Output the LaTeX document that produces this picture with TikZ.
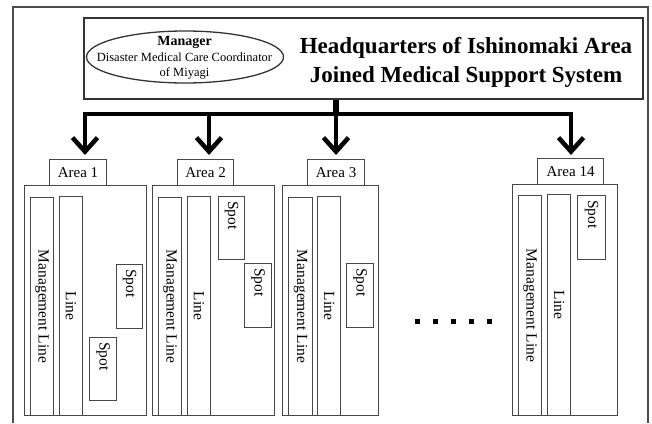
\documentclass[tikz,border=0pt]{standalone}
\usepackage{fontspec}
\setmainfont{Liberation Serif}
\usetikzlibrary{arrows.meta,shapes.geometric}
\begin{document}
\begin{tikzpicture}[x=1pt,y=-1pt,
 frame/.style={draw=black!70, line width=1.6pt},
 hqbox/.style={draw=black!80, line width=1.6pt, anchor=north west, inner sep=0pt},
 box/.style={draw=black!72, line width=1.1pt, anchor=north west, inner sep=0pt},
 tabtext/.style={font=\fontsize{15}{15}\selectfont, inner sep=0pt},
 vtext/.style={rotate=-90, font=\fontsize{15.5}{16}\selectfont, inner sep=0pt},
 conn/.style={line width=3.6pt, draw=black},
 arr/.style={conn, -{Straight Barb[length=14pt,width=25pt,line width=4.5pt]}},
 dotsq/.style={fill=black, minimum size=5pt, inner sep=0pt},
]
\useasboundingbox (0,0) rectangle (652,423);
\fill[white] (0,0) rectangle (652,423);
% outer frame
\draw[frame] (13,423) -- (13,7) -- (648,7) -- (648,423);

% headquarters
\node[hqbox, minimum width=559pt, minimum height=81pt] (hq) at (83,17) {};
\node[ellipse, draw=black!80, line width=1.3pt, minimum width=197pt, minimum height=52pt, inner sep=0pt] (mgr) at (185,57) {};
\node[align=center, inner sep=0pt, font=\fontsize{12.5}{15.5}\selectfont] (mgrt) at (184.5,58)
 {{\fontsize{14}{15.5}\selectfont\bfseries Manager}\\
  Disaster Medical Care Coordinator\\
  of Miyagi};
\node[align=center, inner sep=0pt, font=\fontsize{23}{29}\selectfont\bfseries] (title) at (466,62.5)
 {Headquarters of Ishinomaki Area\\Joined Medical Support System};

% tabs and area boxes
\node[box, minimum width=57pt, minimum height=26pt] (tab1) at (49,159) {};
\node[tabtext] (tab1t) at (tab1.center) {Area 1};
\node[box, minimum width=122pt, minimum height=230pt] (area1) at (24,185) {};
\node[box, minimum width=23pt, minimum height=218pt] (ml1) at (30,197) {};
\node[vtext] (ml1t) at (ml1.center) {Management Line};
\node[box, minimum width=23pt, minimum height=219pt] (ln1) at (59,196) {};
\node[vtext] (ln1t) at (ln1.center) {Line};
\node[box, minimum width=26pt, minimum height=64pt] (sp1a) at (116,264) {};
\node[vtext, anchor=west] (sp1at) at ([yshift=-5pt]sp1a.north) {Spot};
\node[box, minimum width=27pt, minimum height=63pt] (sp1b) at (89,337) {};
\node[vtext, anchor=west] (sp1bt) at ([yshift=-5pt]sp1b.north) {Spot};

\node[box, minimum width=56pt, minimum height=26pt] (tab2) at (177,159) {};
\node[tabtext] (tab2t) at (tab2.center) {Area 2};
\node[box, minimum width=122pt, minimum height=230pt] (area2) at (152,185) {};
\node[box, minimum width=23pt, minimum height=218pt] (ml2) at (158,197) {};
\node[vtext] (ml2t) at (ml2.center) {Management Line};
\node[box, minimum width=23pt, minimum height=219pt] (ln2) at (187,196) {};
\node[vtext] (ln2t) at (ln2.center) {Line};
\node[box, minimum width=26pt, minimum height=63pt] (sp2a) at (218,196) {};
\node[vtext, anchor=west] (sp2at) at ([yshift=-5pt]sp2a.north) {Spot};
\node[box, minimum width=27pt, minimum height=64pt] (sp2b) at (244,263) {};
\node[vtext, anchor=west] (sp2bt) at ([yshift=-5pt]sp2b.north) {Spot};

\node[box, minimum width=57pt, minimum height=26pt] (tab3) at (307,159) {};
\node[tabtext] (tab3t) at (tab3.center) {Area 3};
\node[box, minimum width=96pt, minimum height=230pt] (area3) at (282,185) {};
\node[box, minimum width=24pt, minimum height=218pt] (ml3) at (288,197) {};
\node[vtext] (ml3t) at (ml3.center) {Management Line};
\node[box, minimum width=23pt, minimum height=219pt] (ln3) at (317,196) {};
\node[vtext] (ln3t) at (ln3.center) {Line};
\node[box, minimum width=27pt, minimum height=64pt] (sp3) at (346,263) {};
\node[vtext, anchor=west] (sp3t) at ([yshift=-5pt]sp3.north) {Spot};

\node[box, minimum width=66pt, minimum height=26pt] (tab14) at (537,158) {};
\node[tabtext] (tab14t) at (tab14.center) {Area 14};
\node[box, minimum width=105pt, minimum height=231pt] (area14) at (512,184) {};
\node[box, minimum width=23pt, minimum height=220pt] (ml14) at (518,195) {};
\node[vtext] (ml14t) at (ml14.center) {Management Line};
\node[box, minimum width=23pt, minimum height=221pt] (ln14) at (547,194) {};
\node[vtext] (ln14t) at (ln14.center) {Line};
\node[box, minimum width=28pt, minimum height=64pt] (sp14) at (577,195) {};
\node[vtext, anchor=west] (sp14t) at ([yshift=-5pt]sp14.north) {Spot};

% dots
\foreach \i/\x in {1/417.5,2/435.5,3/453.5,4/471.5,5/489.5}
  \node[dotsq] (dot\i) at (\x,321) {};

% connectors
\coordinate (j) at (336,114);
\coordinate (b2) at (209,114);
\coordinate (t1) at (85,155);
\coordinate (t2) at (209,155);
\coordinate (t3) at (336,155);
\coordinate (t14) at (571,155);
\draw[line width=6pt] (hq.south -| j) -- (j);
\draw[arr] (j) -| (t1);
\draw[arr] (j) -| (t14);
\draw[arr] (b2) -- (t2);
\draw[arr] (j) -- (t3);
\end{tikzpicture}
\end{document}
